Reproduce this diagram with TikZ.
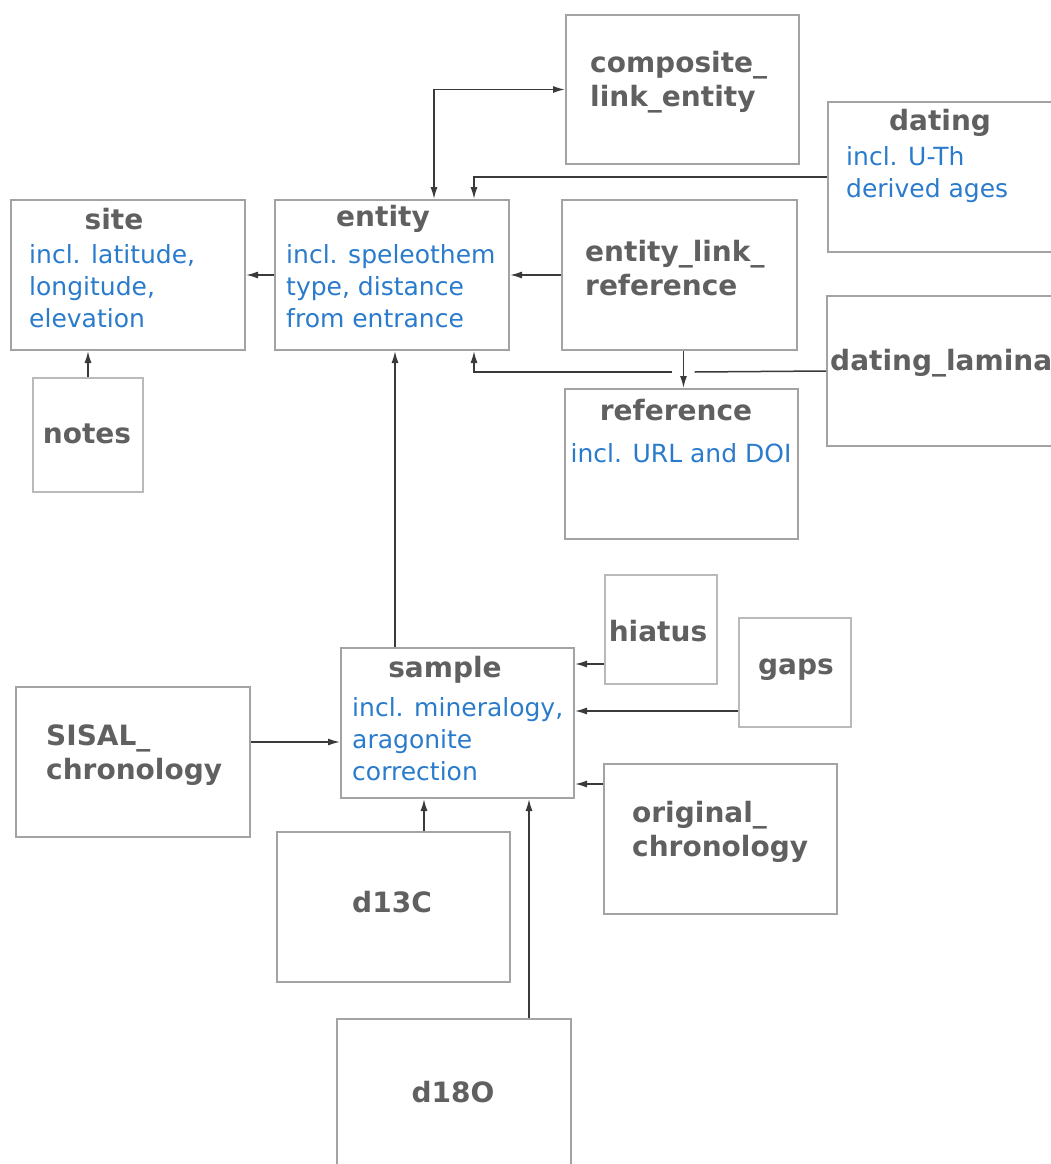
\documentclass[tikz,border=0pt]{standalone}
\usepackage{fontspec}
\setmainfont{DejaVu Sans}
\usetikzlibrary{positioning}
\usetikzlibrary{arrows.meta, calc}
\definecolor{boxgrey}{HTML}{A3A3A3}
\definecolor{titlegrey}{HTML}{606060}
\definecolor{infoblue}{HTML}{2A7BCB}
\definecolor{linkgrey}{HTML}{3A3A3A}

\begin{document}
\begin{tikzpicture}[x=1pt,y=-1pt,
  tbl/.style={draw=boxgrey,line width=2pt,anchor=north west,minimum width=234pt,minimum height=150pt,inner sep=0pt},
  tblsmall/.style={tbl,draw=boxgrey!75,minimum width=112pt,minimum height=109pt},
  ttl/.style={font=\fontsize{28}{34}\selectfont\bfseries,text=titlegrey,align=left,inner sep=0pt},
  info/.style={font=\fontsize{25}{32}\selectfont,text=infoblue,align=left,inner sep=0pt},
  lnk/.style={draw=linkgrey,line width=1.5pt,-{Latex[length=12pt,width=7pt]}},
  lnkboth/.style={lnk,{Latex[length=12pt,width=7pt]}-{Latex[length=12pt,width=7pt]}}]
\useasboundingbox (0,0) rectangle (1050,1164);

\node[tbl,minimum width=233pt,minimum height=149pt] (cle) at (565,14) {};
\node[tbl,minimum width=244pt] (dating) at (827,101) {};
\node[tbl] (site) at (10,199) {};
\node[tbl] (entity) at (274,199) {};
\node[tbl,minimum width=235pt] (elr) at (561,199) {};
\node[tbl,minimum width=244pt] (lamina) at (826,295) {};
\node[tblsmall,minimum width=110pt,minimum height=114pt] (notes) at (32,377) {};
\node[tbl,minimum width=233pt] (ref) at (564,388) {};
\node[tblsmall] (hiatus) at (604,574) {};
\node[tblsmall] (gaps) at (738,617) {};
\node[tbl,minimum width=233pt] (sample) at (340,647) {};
\node[tbl] (sisal) at (15,686) {};
\node[tbl,minimum width=233pt] (orig) at (603,763) {};
\node[tbl,minimum width=233pt] (d13c) at (276,831) {};
\node[tbl] (d18o) at (336,1018) {};

\node[ttl,anchor=west] (cle-t) at (590,82) {composite\_\\link\_entity};
\node[ttl] (dating-t) at (940,123) {dating};
\node[info,anchor=west] (dating-i) at (846,175) {incl. U-Th\\derived ages};
\node[ttl] (site-t) at (114,219) {site};
\node[info,anchor=west] (site-i) at (29,286) {incl. latitude,\\longitude,\\elevation};
\node[ttl] (entity-t) at (383,219) {entity};
\node[info,anchor=west] (entity-i) at (286,286) {incl. speleothem\\type, distance\\from entrance};
\node[ttl,anchor=west] (elr-t) at (585,268) {entity\_link\_\\reference};
\node[ttl,anchor=west] (lamina-t) at (830,363) {dating\_lamina};
\node[ttl] (notes-t) at (87,434) {notes};
\node[ttl] (ref-t) at (676,410) {reference};
\node[info] (ref-i) at (681,453) {incl. URL and DOI};
\node[ttl] (hiatus-t) at (658,631) {hiatus};
\node[ttl] (gaps-t) at (796,670) {gaps};
\node[ttl] (sample-t) at (445,670) {sample};
\node[info,anchor=west] (sample-i) at (352,739) {incl. mineralogy,\\aragonite\\correction};
\node[ttl,anchor=west] (sisal-t) at (46,755) {SISAL\_\\chronology};
\node[ttl,anchor=west] (orig-t) at (632,832) {original\_\\chronology};
\node[ttl] (d13c-t) at (392,902) {d13C};
\node[ttl] (d18o-t) at (453,1092) {d18O};

\draw[lnkboth] ($(entity.north west)+(160,0)$) |- (cle.west);
\draw[lnk] (dating.west) -| ($(entity.north west)+(200,0)$);
\draw[lnk] (elr.west) -- (entity.east);
\draw[lnk] (entity.west) -- (site.east);
\draw[lnk] (notes.north) -- (notes.north |- site.south);
\draw[lnk] ($(elr.south)+(4,0)$) coordinate (e-dn) -- (e-dn |- ref.north);
\coordinate (jump-r) at ($(elr.south)+(15,21)$);
\coordinate (jump-l) at ($(elr.south)+(-8,21)$);
\draw[draw=linkgrey,line width=1.5pt] (lamina.west) -- (jump-r);
\draw[lnk] (jump-l) -| ($(entity.south west)+(200,0)$);
\draw[lnk] ($(sample.north west)+(55,0)$) coordinate (s-up) -- (s-up |- entity.south);

\draw[lnk] ($(hiatus.south west)+(0,-21)$) coordinate (h-in) -- (h-in -| sample.east);
\draw[lnk] ($(gaps.south west)+(0,-17)$) coordinate (g-in) -- (g-in -| sample.east);
\draw[lnk] ($(orig.north west)+(0,21)$) coordinate (o-in) -- (o-in -| sample.east);
\coordinate (s-in) at ($(sample.west)+(0,19)$);
\draw[lnk] (sisal.east |- s-in) -- (s-in);
\draw[lnk] ($(d13c.north west)+(148,0)$) coordinate (c13) -- (c13 |- sample.south);
\draw[lnk] ($(d18o.north west)+(193,0)$) coordinate (c18) -- (c18 |- sample.south);

\end{tikzpicture}
\end{document}
